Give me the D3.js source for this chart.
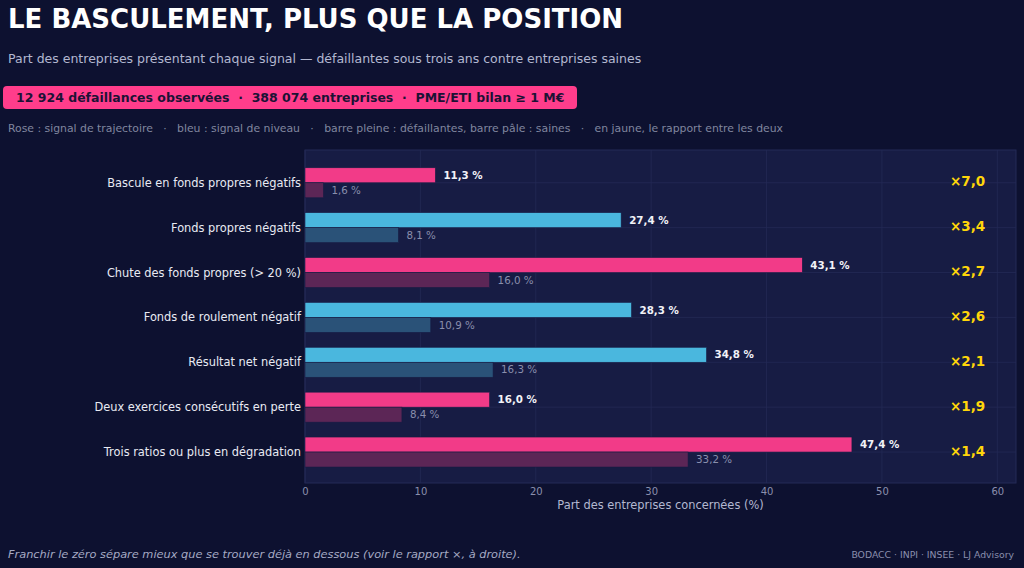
<!DOCTYPE html>
<html>
<head>
<meta charset="utf-8">
<script src="https://cdn.jsdelivr.net/npm/d3@7"></script>
<style>
	html, body { margin: 0; padding: 0; background: #0d1130; }
	svg { display: block; font-family: "DejaVu Sans", sans-serif; }
</style>
</head>
<body>
<div id="chart"></div>
<script>
(function () {
	"use strict";

	var categories = [
		'Bascule en fonds propres négatifs',
		'Fonds propres négatifs',
		'Chute des fonds propres (> 20 %)',
		'Fonds de roulement négatif',
		'Résultat net négatif',
		'Deux exercices consécutifs en perte',
		'Trois ratios ou plus en dégradation'
	];
	var failing = [11.3, 27.4, 43.1, 28.3, 34.8, 16.0, 47.4];
	var healthy = [1.6, 8.1, 16.0, 10.9, 16.3, 8.4, 33.2];
	var ratios = [7.0, 3.4, 2.7, 2.6, 2.1, 1.9, 1.4];
	var kinds = ['trajectoire', 'niveau', 'trajectoire', 'niveau', 'niveau', 'trajectoire', 'trajectoire'];
	var xTicks = [0, 10, 20, 30, 40, 50, 60];

	var WIDTH = 1024;
	var HEIGHT = 568;
	var PLOT = { left: 305, right: 1016, top: 150, bottom: 483 };
	var BAR_H = 15;

	var colors = {
		trajectoire: { full: '#f23b88', pale: '#5c2656' },
		niveau: { full: '#4ab7de', pale: '#2a5278' }
	};

	var frFormat = function (v, digits) {
		return v.toFixed(digits).replace('.', ',');
	};

	var svg = d3.select('#chart').append('svg')
		.attr('width', WIDTH)
		.attr('height', HEIGHT);

	svg.append('rect')
		.attr('width', WIDTH)
		.attr('height', HEIGHT)
		.attr('fill', '#0d1130');

	// header
	svg.append('text')
		.attr('x', 8).attr('y', 28)
		.attr('font-size', 26).attr('font-weight', 'bold')
		.attr('fill', '#ffffff')
		.text('LE BASCULEMENT, PLUS QUE LA POSITION');

	svg.append('text')
		.attr('x', 8).attr('y', 63)
		.attr('font-size', 12.5)
		.attr('fill', '#b3b8d0')
		.text('Part des entreprises présentant chaque signal — défaillantes sous trois ans contre entreprises saines');

	svg.append('rect')
		.attr('x', 3).attr('y', 86)
		.attr('width', 574).attr('height', 23)
		.attr('rx', 4)
		.attr('fill', '#ff3d8b');

	svg.append('text')
		.attr('x', 16).attr('y', 102)
		.attr('font-size', 12.5).attr('font-weight', 'bold')
		.attr('fill', '#1c1235')
		.attr('xml:space', 'preserve')
		.text('12 924 défaillances observées  ·  388 074 entreprises  ·  PME/ETI bilan ≥ 1 M€');

	svg.append('text')
		.attr('x', 8).attr('y', 132)
		.attr('font-size', 10.85)
		.attr('fill', '#80869f')
		.attr('xml:space', 'preserve')
		.text('Rose : signal de trajectoire   ·   bleu : signal de niveau   ·   barre pleine : défaillantes, barre pâle : saines   ·   en jaune, le rapport entre les deux');

	// scales
	var x = d3.scaleLinear()
		.domain([0, d3.max(failing) * 1.3])
		.range([PLOT.left, PLOT.right]);

	var y = d3.scaleLinear()
		.domain([-0.73, categories.length - 1 + 0.69])
		.range([PLOT.top, PLOT.bottom]);

	var plot = svg.append('g').classed('plot', true);

	plot.append('rect')
		.attr('x', PLOT.left).attr('y', PLOT.top)
		.attr('width', PLOT.right - PLOT.left)
		.attr('height', PLOT.bottom - PLOT.top)
		.attr('fill', '#171c44')
		.attr('stroke', '#242a56')
		.attr('stroke-width', 1);

	// grid
	plot.append('g').selectAll('line')
		.data(xTicks)
		.enter().append('line')
		.attr('x1', function (d) { return x(d); })
		.attr('x2', function (d) { return x(d); })
		.attr('y1', PLOT.top).attr('y2', PLOT.bottom)
		.attr('stroke', '#232955').attr('stroke-width', 0.8);

	plot.append('g').selectAll('line')
		.data(categories)
		.enter().append('line')
		.attr('x1', PLOT.left).attr('x2', PLOT.right)
		.attr('y1', function (_, i) { return y(i); })
		.attr('y2', function (_, i) { return y(i); })
		.attr('stroke', '#232955').attr('stroke-width', 0.8);

	var rows = plot.selectAll('.row')
		.data(categories)
		.enter().append('g')
		.classed('row', true);

	rows.append('rect')
		.attr('x', x(0))
		.attr('y', function (_, i) { return y(i) - BAR_H; })
		.attr('width', function (_, i) { return x(failing[i]) - x(0); })
		.attr('height', BAR_H)
		.attr('fill', function (_, i) { return colors[kinds[i]].full; })
		.attr('stroke', '#171c44').attr('stroke-width', 0.6);

	rows.append('rect')
		.attr('x', x(0))
		.attr('y', function (_, i) { return y(i); })
		.attr('width', function (_, i) { return x(healthy[i]) - x(0); })
		.attr('height', BAR_H)
		.attr('fill', function (_, i) { return colors[kinds[i]].pale; })
		.attr('stroke', '#171c44').attr('stroke-width', 0.6);

	rows.append('text')
		.attr('x', function (_, i) { return x(failing[i]) + 8; })
		.attr('y', function (_, i) { return y(i) - BAR_H / 2; })
		.attr('dy', '0.35em')
		.attr('font-size', 10.3).attr('font-weight', 'bold')
		.attr('fill', '#f2f3f8')
		.text(function (_, i) { return frFormat(failing[i], 1) + ' %'; });

	rows.append('text')
		.attr('x', function (_, i) { return x(healthy[i]) + 8; })
		.attr('y', function (_, i) { return y(i) + BAR_H / 2; })
		.attr('dy', '0.35em')
		.attr('font-size', 10.3)
		.attr('fill', '#8a8fad')
		.text(function (_, i) { return frFormat(healthy[i], 1) + ' %'; });

	rows.append('text')
		.attr('x', 950)
		.attr('y', function (_, i) { return y(i) - 1; })
		.attr('dy', '0.35em')
		.attr('font-size', 13.5).attr('font-weight', 'bold')
		.attr('fill', '#ffd60a')
		.text(function (_, i) { return '×' + frFormat(ratios[i], 1); });

	rows.append('text')
		.attr('x', PLOT.left - 4)
		.attr('y', function (_, i) { return y(i); })
		.attr('dy', '0.35em')
		.attr('text-anchor', 'end')
		.attr('font-size', 11.4)
		.attr('fill', '#e8eaf3')
		.text(function (d) { return d; });

	// x axis
	var axis = svg.append('g')
		.attr('transform', 'translate(0,' + PLOT.bottom + ')')
		.call(d3.axisBottom(x).tickValues(xTicks).tickSize(0).tickPadding(5).tickFormat(d3.format('d')));
	axis.select('.domain').remove();
	axis.selectAll('text')
		.attr('font-family', '"DejaVu Sans", sans-serif')
		.attr('font-size', 10)
		.attr('fill', '#8a8fad');

	svg.append('text')
		.attr('x', (PLOT.left + PLOT.right) / 2).attr('y', 509)
		.attr('text-anchor', 'middle')
		.attr('font-size', 11.4)
		.attr('fill', '#b3b8d0')
		.text('Part des entreprises concernées (%)');

	// footer
	svg.append('text')
		.attr('x', 8).attr('y', 558)
		.attr('font-size', 11.35).attr('font-style', 'italic')
		.attr('fill', '#a5aac4')
		.text('Franchir le zéro sépare mieux que se trouver déjà en dessous (voir le rapport ×, à droite).');

	svg.append('text')
		.attr('x', 1014).attr('y', 558)
		.attr('text-anchor', 'end')
		.attr('font-size', 9.3)
		.attr('fill', '#8a8fad')
		.text('BODACC · INPI · INSEE · LJ Advisory');
}());
</script>
</body>
</html>
